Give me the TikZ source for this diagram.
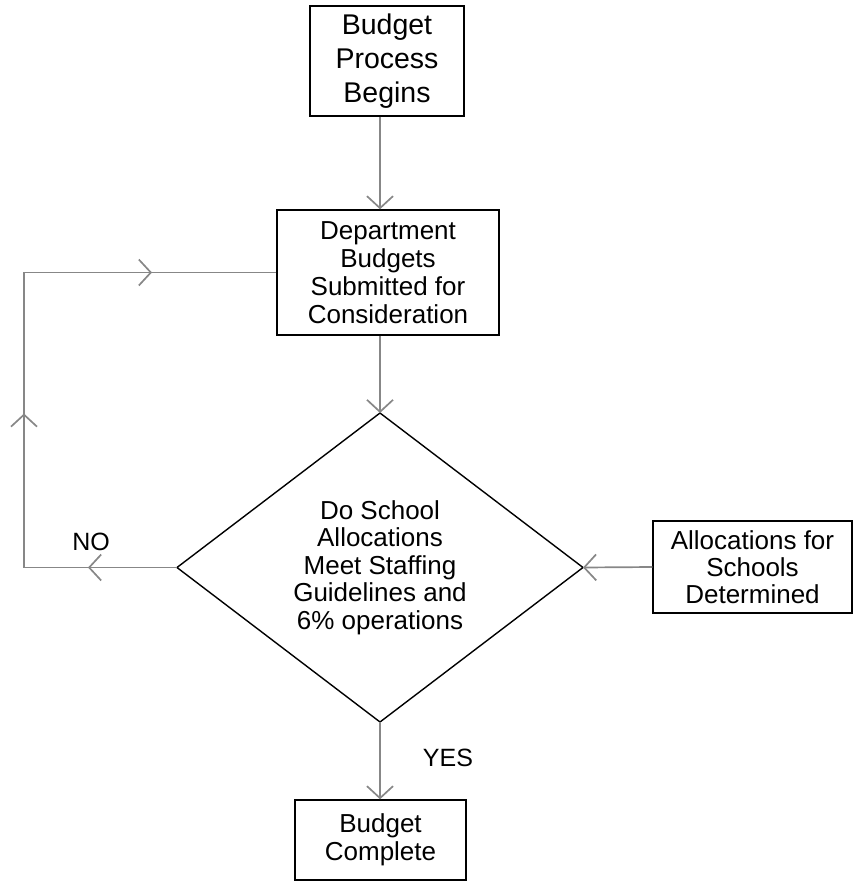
\documentclass[tikz,border=0pt]{standalone}
\usepackage{fontspec}
\setmainfont{Liberation Sans}
\usetikzlibrary{arrows.meta,shapes.geometric,decorations.markings}
\definecolor{conngray}{RGB}{135,135,135}
\begin{document}
\begin{tikzpicture}[x=1pt,y=-1pt,
  box/.style={draw=black, line width=1.4pt, align=center, inner sep=0pt,
    font=\fontsize{26}{28}\selectfont},
  conn/.style={draw=conngray, line width=1.7pt},
  tip/.style={-{Straight Barb[length=12pt,width=26pt]}},
  lbl/.style={font=\fontsize{25}{28}\selectfont, inner sep=0pt},
  midarrow/.style={postaction=decorate, decoration={markings,
    mark=at position 89pt with {\arrow[line width=1.7pt, conngray]{Straight Barb[length=12pt,width=26pt]}},
    mark=at position 307pt with {\arrow[line width=1.7pt, conngray]{Straight Barb[length=12pt,width=26pt]}},
    mark=at position 576pt with {\arrow[line width=1.7pt, conngray]{Straight Barb[length=12pt,width=26pt]}}}}
]
\useasboundingbox (0,0) rectangle (853,881);

\node[box, minimum width=154pt, minimum height=110pt, font=\fontsize{28.5}{34}\selectfont] (b1) at (387,61) {Budget\\Process\\Begins};
\node[box, minimum width=222pt, minimum height=125pt] (b2) at (388,272.5) {Department\\Budgets\\Submitted for\\Consideration};
\node[diamond, draw=black, line width=1.4pt, aspect=1.31, minimum width=406pt, minimum height=309pt, inner sep=0pt, outer sep=0pt, align=center, font=\fontsize{26}{27.5}\selectfont] (d) at (380,567.5) {Do School\\Allocations\\Meet Staffing\\Guidelines and\\6\% operations};
\node[box, minimum width=199pt, minimum height=92pt, font=\fontsize{26}{27}\selectfont] (b3) at (752.5,567) {Allocations for\\Schools\\Determined};
\node[box, minimum width=171pt, minimum height=80pt] (b4) at (380.5,840) {Budget\\Complete};

\node[lbl] (no) at (91,542) {NO};
\node[lbl] (yes) at (448,758) {YES};

\draw[conn, tip] (b1.south -| d.north) -- (b2.north -| d.north);
\draw[conn, tip] (b2.south -| d.north) -- (d.north);
\draw[conn, tip] (b3.west) -- (d.east);
\draw[conn, tip] (d.south) -- (b4.north -| d.south);

\coordinate (lb) at (24,567.5);
\coordinate (lt) at (24,272.5);
\draw[conn, midarrow] (d.west) -- (lb) -- (lt) -- (b2.west);
\end{tikzpicture}
\end{document}
